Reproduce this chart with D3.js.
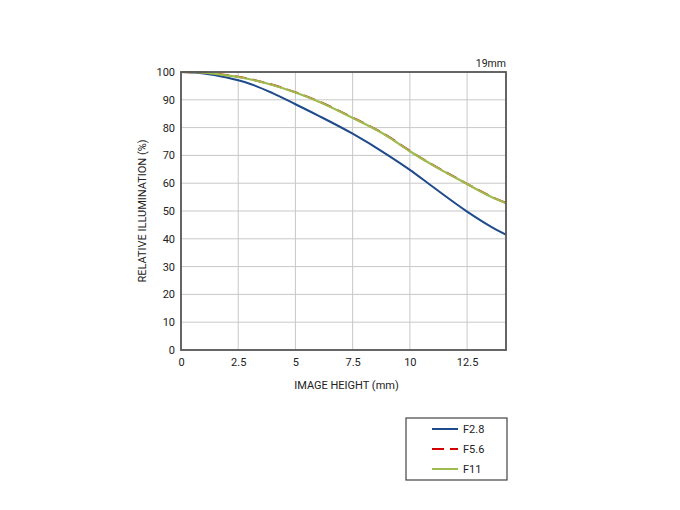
<!DOCTYPE html>
<html><head><meta charset="utf-8">
<script src="https://cdn.jsdelivr.net/npm/d3@7"></script>
<style>body{margin:0;background:#fff}svg{display:block}text{font-family:"Roboto","Liberation Sans",sans-serif;fill:#222}</style>
</head><body>
<script>
const xs = [0, 1, 2, 2.5, 3, 4, 5, 6, 7.5, 9, 10, 11, 12.5, 13.5, 14.2];
const f28 = [100, 99.5, 98, 97, 95.8, 92.4, 88.4, 84.3, 77.8, 70.3, 64.8, 58.7, 49.8, 44.6, 41.5];
const f56 = [100, 99.8, 98.9, 98.3, 97.5, 95.4, 92.7, 89.5, 83.6, 77.1, 71.6, 66.6, 59.8, 55.4, 52.9];
const f11 = [100, 99.8, 98.8, 98.2, 97.4, 95.3, 92.6, 89.4, 83.5, 77, 71.5, 66.5, 59.7, 55.3, 52.8];
const xTicks = [0, 2.5, 5, 7.5, 10, 12.5];
const yTicks = [0, 10, 20, 30, 40, 50, 60, 70, 80, 90, 100];
const seriesNames = ["F2.8", "F5.6", "F11"];
const seriesColors = ["#1f4a8c", "#d40000", "#9dbb4e"];

const W = 680, H = 510;
const L = 181, R = 506, T = 72, B = 350;
const svg = d3.select("body").append("svg").attr("width", W).attr("height", H);
const x = d3.scaleLinear().domain([0, 14.2]).range([L, R]);
const y = d3.scaleLinear().domain([0, 100]).range([B, T]);

// grid
svg.append("g").selectAll("line").data(xTicks.slice(1)).join("line")
  .attr("x1", d => x(d)).attr("x2", d => x(d)).attr("y1", T).attr("y2", B)
  .attr("stroke", "#c8c8c8").attr("stroke-width", 1);
svg.append("g").selectAll("line").data(yTicks.slice(1, -1)).join("line")
  .attr("x1", L).attr("x2", R).attr("y1", d => y(d)).attr("y2", d => y(d))
  .attr("stroke", "#c8c8c8").attr("stroke-width", 1);

// axes (labels only)
const xa = svg.append("g").attr("transform", `translate(0,${B})`)
  .call(d3.axisBottom(x).tickValues(xTicks).tickSize(0).tickPadding(8).tickFormat(d => d));
const ya = svg.append("g").attr("transform", `translate(${L},0)`)
  .call(d3.axisLeft(y).tickValues(yTicks).tickSize(0).tickPadding(6));
[xa, ya].forEach(a => { a.select(".domain").remove(); a.selectAll("text").style("font-size", "11px").attr("fill", "#222").style("font-family", "Roboto, 'Liberation Sans', sans-serif"); });

// lines
const line = d3.line().x((d, i) => x(xs[i])).y(d => y(d)).curve(d3.curveMonotoneX);
svg.append("path").datum(f28).attr("d", line).attr("fill", "none").attr("stroke", seriesColors[0]).attr("stroke-width", 2);
svg.append("path").datum(f56).attr("d", line).attr("fill", "none").attr("stroke", seriesColors[1]).attr("stroke-width", 2).attr("stroke-dasharray", "12,6");
svg.append("path").datum(f11).attr("d", line).attr("fill", "none").attr("stroke", seriesColors[2]).attr("stroke-width", 2.2);

// frame
svg.append("rect").attr("x", L).attr("y", T).attr("width", R - L).attr("height", B - T)
  .attr("fill", "none").attr("stroke", "#555").attr("stroke-width", 1.8);

// labels
svg.append("text").attr("x", R).attr("y", 67).attr("text-anchor", "end").style("font-size", "10.5px").text("19mm");
svg.append("text").attr("x", (L + R) / 2 + 3).attr("y", 389).attr("text-anchor", "middle").style("font-size", "11px").text("IMAGE HEIGHT (mm)");
svg.append("text").attr("transform", `translate(146,${(T + B) / 2}) rotate(-90)`).attr("text-anchor", "middle").style("font-size", "11px").text("RELATIVE ILLUMINATION (%)");

// legend
const lg = svg.append("g");
lg.append("rect").attr("x", 406).attr("y", 418).attr("width", 101).attr("height", 62).attr("fill", "#fff").attr("stroke", "#444").attr("stroke-width", 1.2);
seriesNames.forEach((n, i) => {
  const yy = 429 + i * 20;
  lg.append("line").attr("x1", 432).attr("x2", 458).attr("y1", yy).attr("y2", yy)
    .attr("stroke", seriesColors[i]).attr("stroke-width", 2).attr("stroke-dasharray", i === 1 ? "12,6" : null);
  lg.append("text").attr("x", 463).attr("y", yy + 4).style("font-size", "11px").text(n);
});
</script>
</body></html>
